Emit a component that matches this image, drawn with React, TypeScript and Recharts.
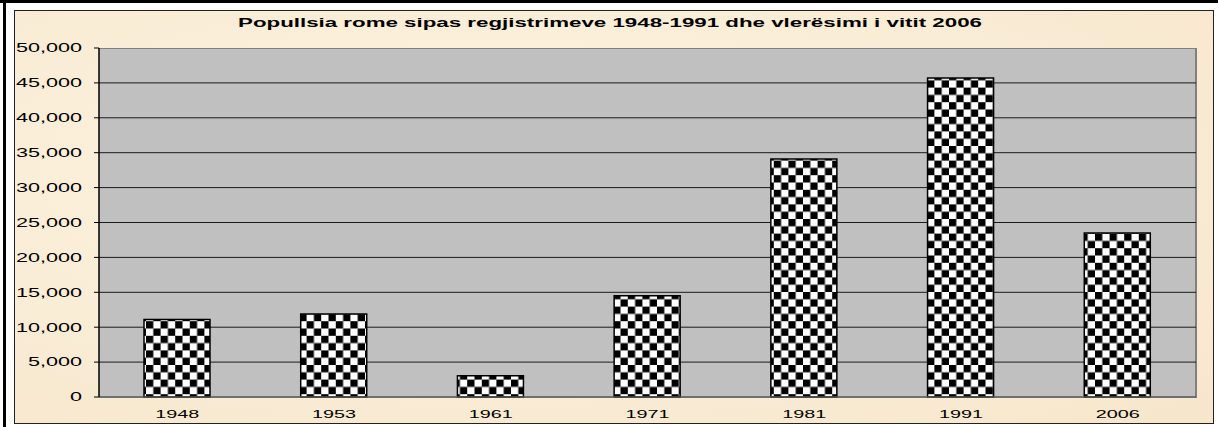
import React from 'react';
import { BarChart, Bar, XAxis, YAxis, CartesianGrid } from 'recharts';

const years = ['1948', '1953', '1961', '1971', '1981', '1991', '2006'];
const population = [11100, 11900, 3050, 14500, 34100, 45700, 23500];
const yTicks = [0, 5000, 10000, 15000, 20000, 25000, 30000, 35000, 40000, 45000, 50000];
const gridValues = [5000, 10000, 15000, 20000, 25000, 30000, 35000, 40000, 45000];
const title = 'Popullsia rome sipas regjistrimeve 1948-1991 dhe vlerësimi i vitit 2006';

const data = years.map((y, i) => ({ year: y, value: population[i] }));

const FONT = '"Liberation Sans", Arial, sans-serif';

const YTick = (props: any) => {
  const { x, y, payload } = props;
  return (
    <g transform={`translate(${x - 10},${y})`}>
      <text
        transform="scale(1.8,1)"
        textAnchor="end"
        dy="0.36em"
        fontFamily={FONT}
        fontSize={12}
        fill="#000"
      >
        {Number(payload.value).toLocaleString('en-US')}
      </text>
    </g>
  );
};

const XTick = (props: any) => {
  const { x, y, payload } = props;
  return (
    <g transform={`translate(${x},${y})`}>
      <text
        transform="scale(1.8,1)"
        textAnchor="middle"
        y={13}
        fontFamily={FONT}
        fontSize={11}
        fill="#000"
      >
        {payload.value}
      </text>
    </g>
  );
};

export default function App() {
  return (
    <div style={{ position: 'absolute', left: 0, top: 0, width: 1218, height: 427, background: '#fff', overflow: 'hidden' }}>
      {/* outer thick lines */}
      <div style={{ position: 'absolute', left: 0, top: 0, width: 1218, height: 3, background: '#000' }} />
      <div style={{ position: 'absolute', left: 3, top: 0, width: 3, height: 427, background: '#000' }} />
      {/* beige chart area */}
      <div
        style={{
          position: 'absolute',
          left: 14,
          top: 10,
          width: 1198,
          height: 412,
          border: '1px solid #222',
          background: 'radial-gradient(ellipse at 40% 40%, #fdf4e4 0%, #faedd6 55%, #f6e6cb 100%)',
        }}
      />
      {/* plot area */}
      <div
        style={{
          position: 'absolute',
          left: 99,
          top: 48,
          width: 1096,
          height: 349,
          background: '#c0c0c0',
          borderTop: '1px solid #808080',
          borderRight: '2px solid #808080',
        }}
      />
      <svg style={{ position: 'absolute', left: 0, top: 0 }} width={1218} height={40}>
        <text
          x={610}
          y={27}
          textAnchor="middle"
          fontFamily={FONT}
          fontWeight="bold"
          fontSize={13}
          textLength={744}
          lengthAdjust="spacingAndGlyphs"
          fill="#000"
        >
          {title}
        </text>
      </svg>
      <div style={{ position: 'absolute', left: 0, top: 0 }}>
        <BarChart
          width={1218}
          height={427}
          data={data}
          margin={{ top: 48, right: 22, bottom: 0, left: 0 }}
          barSize={66}
        >
          <defs>
            <pattern id="checker" width={14.6} height={14.6} patternUnits="userSpaceOnUse">
              <rect width={14.6} height={14.6} fill="#fff" />
              <rect width={7.3} height={7.3} fill="#000" />
              <rect x={7.3} y={7.3} width={7.3} height={7.3} fill="#000" />
            </pattern>
          </defs>
          <CartesianGrid
            vertical={false}
            horizontalValues={gridValues}
            stroke="#1a1a1a"
            strokeWidth={1}
          />
          <XAxis
            dataKey="year"
            height={30}
            tickLine={false}
            axisLine={{ stroke: '#555', strokeWidth: 1.5 }}
            tick={<XTick />}
            interval={0}
          />
          <YAxis
            width={99}
            domain={[0, 50000]}
            ticks={yTicks}
            interval={0}
            tickSize={5}
            tickLine={{ stroke: '#000' }}
            axisLine={{ stroke: '#000', strokeWidth: 1.5 }}
            tick={<YTick />}
          />
          <Bar
            dataKey="value"
            fill="url(#checker)"
            stroke="#000"
            strokeWidth={1.5}
            isAnimationActive={false}
          />
        </BarChart>
      </div>
    </div>
  );
}
